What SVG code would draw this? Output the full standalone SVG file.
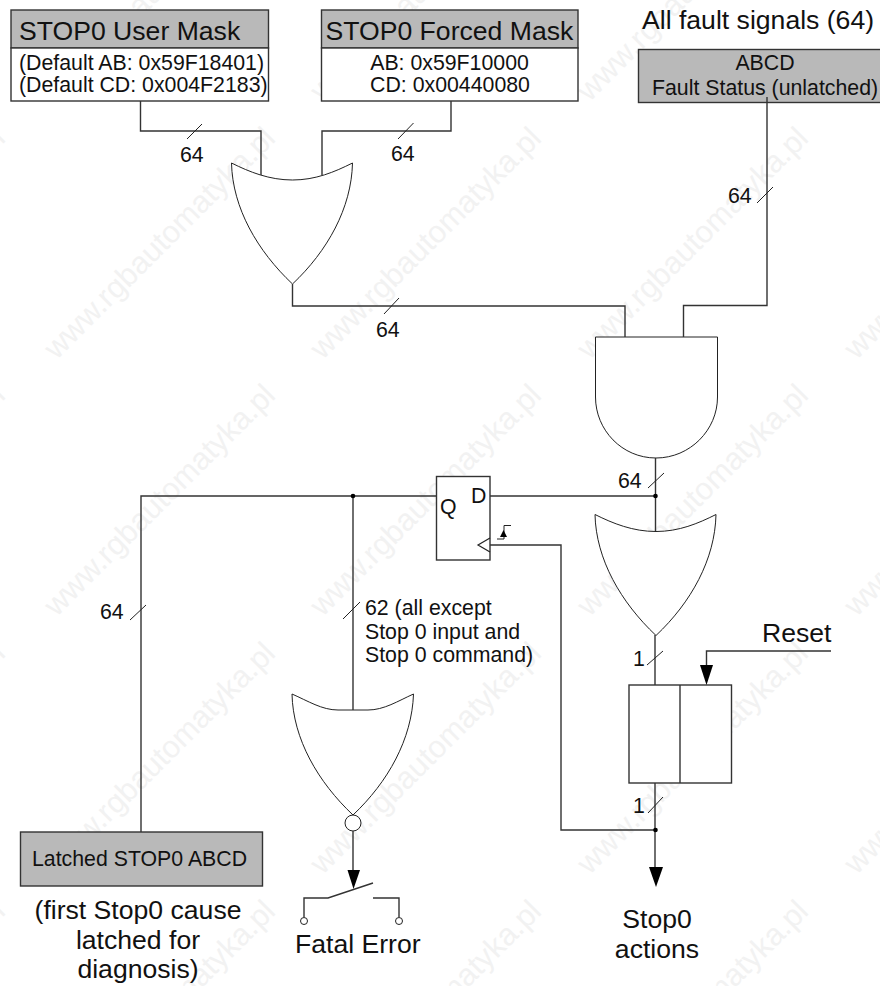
<svg xmlns="http://www.w3.org/2000/svg" width="880" height="986" viewBox="0 0 880 986">
<style>
text{font-family:"Liberation Sans",Arial,sans-serif;fill:#111}
.l{font-size:21.3px}.b{font-size:26.6px}.n{font-size:21.3px}
.w{fill:none;stroke:#333;stroke-width:1.4}
.g{fill:#fff;stroke:#222;stroke-width:1}
.t{fill:none;stroke:#222;stroke-width:1}
.box{stroke:#333;stroke-width:1.4}
.h{fill:#b9b9b9}
.c{text-anchor:middle}
.wm{font-size:31px;fill:#f2f2f2;text-anchor:end}
</style>
<defs>
<path id="or" d="M0 0C18 9 38 17 61 17C84 17 103 9 121 0C120 45 96 88 61 121C26 88 1 45 0 0Z"/>
<text id="wm" class="wm" transform="rotate(-45)">www.rgbautomatyka.pl</text>
<g id="wmc"><use href="#wm" y="-118"/><use href="#wm" y="140"/><use href="#wm" y="397"/><use href="#wm" y="655"/><use href="#wm" y="913"/><use href="#wm" y="1171"/></g>
</defs>
<g id="watermark"><use href="#wmc" x="7"/><use href="#wmc" x="277"/><use href="#wmc" x="543"/><use href="#wmc" x="810"/><use href="#wmc" x="1077"/></g>
<g id="user-mask"><rect x="11" y="10" width="257.500" height="38" class="box h"/><rect x="11" y="48" width="257.500" height="53" fill="#fff" class="box"/><text x="19" y="39.500" class="b">STOP0 User Mask</text><text x="19" y="70" class="l">(Default AB: 0x59F18401)</text><text x="19" y="92" class="l">(Default CD: 0x004F2183)</text></g>
<g id="forced-mask"><rect x="321.500" y="10" width="256.500" height="38" class="box h"/><rect x="321.500" y="48" width="256.500" height="53" fill="#fff" class="box"/><text x="325.500" y="40" class="b">STOP0 Forced Mask</text><text x="449.500" y="70" class="l c">AB: 0x59F10000</text><text x="450" y="92" class="l c">CD: 0x00440080</text></g>
<g id="fault-status"><text x="642" y="29" class="b">All fault signals (64)</text><rect x="638.500" y="49.500" width="245" height="53" class="box h"/><text x="765" y="70" class="l c">ABCD</text><text x="652" y="94.500" class="l">Fault Status (unlatched)</text></g>
<g id="or-top"><use href="#or" x="231.500" y="163" class="g"/></g>
<g id="and-gate"><path class="g" d="M595.500 337H717.500V397C717.500 430 690 458 656 458C622 458 595.500 430 595.500 397Z"/></g>
<g id="or-right"><use href="#or" x="595" y="514.500" class="g"/></g>
<g id="nor-gate"><path class="g" d="M292 694C308 701 322 710 338 710H368C384 710 398 701 413.500 694C412 739 388 782 353 815C318 782 293 739 292 694Z"/><circle cx="353" cy="823" r="8" class="g"/></g>
<g id="latch"><rect x="436.500" y="476.500" width="53.500" height="83.500" fill="#fff" class="box"/><path class="t" d="M490 538L478 545L490 552" style="stroke-width:1.2"/><text x="440" y="514" class="n">Q</text><text x="471" y="503" class="n">D</text><path class="t" d="M497 539H504V525.500H511"/><path d="M500 537L503.500 530L507 537Z" fill="#000"/></g>
<g id="register"><rect x="629" y="685" width="102.500" height="98" fill="#fff" class="box"/><path class="w" d="M680 685V783"/></g>
<g id="latched"><rect x="20.500" y="832" width="242" height="54" class="box h"/><text x="32" y="866" class="l">Latched STOP0 ABCD</text></g>
<g id="switch"><path class="w" d="M304 917V898H328L373 883M373 898H399V917"/><circle cx="304" cy="921" r="3.500" class="g"/><circle cx="399" cy="921" r="3.500" class="g"/></g>
<g id="connectors">
<path class="w" d="M140.500 101V131H261V175"/><path class="w" d="M451 101V131H322V175"/>
<path class="w" d="M292.500 284V306H625V337"/><path class="w" d="M767 97V305.500H683.500V337"/>
<path class="w" d="M655.500 458V531"/><path class="w" d="M655 635V685"/>
<path class="w" d="M490 496H655"/><path class="w" d="M436.500 496H141V832"/>
<path class="w" d="M353 496V710"/><path class="w" d="M490 545H561V830H655"/>
<path class="w" d="M655 783V868"/><path class="w" d="M831 651H706.500V666"/>
<path class="w" d="M353 831V871"/>
<path d="M700 665L706.500 685L713 665Z" fill="#000"/><path d="M649 867L656 887L663 867Z" fill="#000"/><path d="M347.500 870L353.500 889L360 870Z" fill="#000"/>
<path class="t" d="M187 139L202 124M398 139L413.500 123M384 314L399 298M757 203L773 187M648 488L664 473M130 620L146 605M343 619L360 602M647 665L663 651M648 813L663 797"/>
<circle cx="655.500" cy="496" r="2.300" fill="#000"/><circle cx="353" cy="496" r="2.300" fill="#000"/><circle cx="655.500" cy="830" r="2.300" fill="#000"/>
</g>
<text x="138" y="919" class="b c">(first Stop0 cause</text><text x="138" y="949" class="b c">latched for</text><text x="138" y="978" class="b c">diagnosis)</text>
<text x="295" y="953" class="b">Fatal Error</text>
<text x="657" y="928" class="b c">Stop0</text><text x="657" y="958" class="b c">actions</text>
<text x="762" y="642" class="b">Reset</text>
<g id="labels"><text x="180" y="162" class="n">64</text><text x="391" y="161" class="n">64</text><text x="376" y="337" class="n">64</text><text x="728" y="203" class="n">64</text><text x="618" y="488" class="n">64</text><text x="100" y="619" class="n">64</text><text x="365" y="615" class="l">62 (all except</text><text x="365" y="639" class="l">Stop 0 input and</text><text x="365" y="662" class="l">Stop 0 command)</text><text x="633" y="666" class="n">1</text><text x="633" y="813" class="n">1</text></g>
</svg>
